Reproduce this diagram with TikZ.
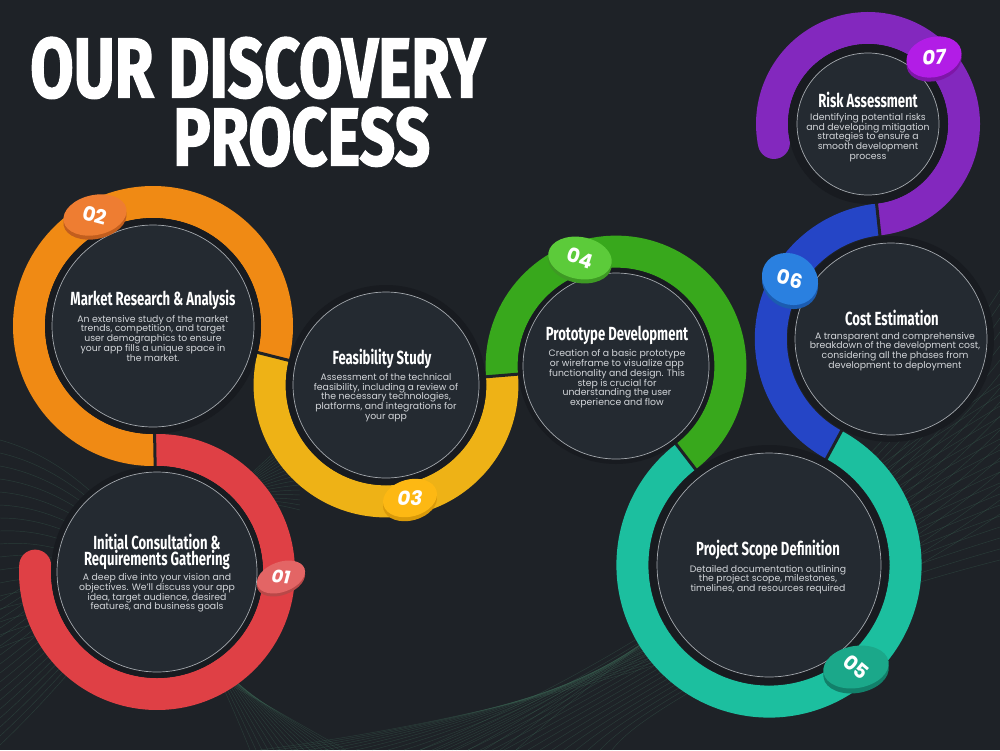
\documentclass[tikz,border=0pt]{standalone}
\usepackage{fontspec}
\usepackage{graphicx}
\setmainfont{Poppins}
\newfontfamily\headfont[FakeStretch=0.69]{Fira Sans}
\newfontfamily\titlefont{Fira Sans}[BoldFeatures={FakeBold=2}]
\definecolor{bg}{HTML}{1E2227}
\definecolor{gapc}{HTML}{181B20}
\definecolor{diskc}{HTML}{242A31}
\definecolor{linec}{HTML}{A4A9AE}
\definecolor{bodyc}{HTML}{D3D6DA}
\definecolor{meshc}{HTML}{3F6E5A}
\definecolor{rred}{HTML}{DF4045}
\definecolor{rorange}{HTML}{F08A14}
\definecolor{ryellow}{HTML}{EEB216}
\definecolor{rgreen}{HTML}{38A81C}
\definecolor{rteal}{HTML}{1CBF9F}
\definecolor{rblue}{HTML}{2545C6}
\definecolor{rpurple}{HTML}{8328BE}
\definecolor{bredf}{HTML}{E36565}\definecolor{breds}{HTML}{B94848}
\definecolor{borf}{HTML}{EE7D32}\definecolor{bors}{HTML}{C25E1E}
\definecolor{byef}{HTML}{FDB813}\definecolor{byes}{HTML}{D99A0A}
\definecolor{bgrf}{HTML}{5CCB3A}\definecolor{bgrs}{HTML}{3E9A24}
\definecolor{btef}{HTML}{1BA88A}\definecolor{btes}{HTML}{12806A}
\definecolor{bblf}{HTML}{2A80E0}\definecolor{bbls}{HTML}{1C5CB0}
\definecolor{bpuf}{HTML}{B21DE6}\definecolor{bpus}{HTML}{7E16A8}
\begin{document}
\begin{tikzpicture}[x=1pt,y=1pt,
  ring/.style={line width=32pt, line cap=butt},
  divider/.style={draw=bg, line width=3pt},
  gapdisk/.style={circle, fill=gapc, inner sep=0pt},
  disk/.style={circle, fill=diskc, draw=linec, line width=0.7pt, inner sep=0pt},
  mesh/.style={draw=meshc, opacity=0.35, line width=0.45pt},
  headtxt/.style={text=white, align=center, inner sep=0pt, font=\headfont\bfseries\fontsize{19}{14}\selectfont},
  bodytxt/.style={text=bodyc, align=center, inner sep=0pt, font=\fontsize{9.3}{9.75}\selectfont},
  numtxt/.style={text=white, inner sep=0pt, font=\bfseries\fontsize{20}{20}\selectfont}
]
\fill[bg] (0,0) rectangle (1000,-750);
\useasboundingbox (0,0) rectangle (1000,-750);

% background mesh
\foreach \i in {0,...,16} {
  \draw[mesh] (0,{-440-\i*13}) .. controls (110,{-470-\i*8}) and (190,{-600-\i*4}) .. ({250+\i*6},-750);
  \draw[mesh] (0,{-745+\i*9}) .. controls (90,{-660+\i*7}) and (170,{-540+\i*4}) .. (300,{-430-\i*5});
  \draw[mesh] ({420+\i*12},-750) .. controls (650,{-650-\i*3}) and (850,{-520-\i*6}) .. (1000,{-290-\i*14});
  \draw[mesh] ({260+\i*16},-750) .. controls (600,{-705+\i*2}) and (800,{-610+\i*6}) .. (1000,{-560+\i*11});
}

% centers
\coordinate (c1) at (157,-572);
\coordinate (c2) at (153,-326);
\coordinate (c3) at (386,-385);
\coordinate (c4) at (616,-366);
\coordinate (c5) at (769,-565);
\coordinate (c6) at (891,-339);
\coordinate (c7) at (868,-124);

% rings
\draw[ring, rred] (c1) ++(91:122pt) arc[start angle=91, end angle=-183, radius=122pt];
\fill[rred] (c1) ++(-183:122pt) circle[radius=16pt];
\draw[ring, rorange] (c2) ++(271:124pt) arc[start angle=271, end angle=-14.2, radius=124pt];
\draw[ring, ryellow] (c3) ++(165.8:116.4pt) arc[start angle=165.8, end angle=364.7, radius=116.4pt];
\draw[ring, rgreen] (c4) ++(184.7:114.4pt) arc[start angle=184.7, end angle=-52.4, radius=114.4pt];
\draw[ring, rteal] (c5) ++(127.6:136.6pt) arc[start angle=127.6, end angle=421.6, radius=136.6pt];
\draw[ring, rblue] (c6) ++(241.6:120.2pt) arc[start angle=241.6, end angle=96.1, radius=120.2pt];
\draw[ring, rpurple] (c7) ++(276.1:96pt) arc[start angle=276.1, end angle=551.4, radius=96pt];
\fill[rpurple] (c7) ++(191.4:96pt) circle[radius=16pt];

% dividers
\draw[divider] (c1) ++(91:104pt) -- ++(91:36pt);
\draw[divider] (c2) ++(-14.2:106pt) -- ++(-14.2:36pt);
\draw[divider] (c3) ++(4.7:98.4pt) -- ++(4.7:36pt);
\draw[divider] (c4) ++(-52.4:96.4pt) -- ++(-52.4:36pt);
\draw[divider] (c5) ++(61.6:118.6pt) -- ++(61.6:36pt);
\draw[divider] (c6) ++(96.1:102.2pt) -- ++(96.1:36pt);

% disks
\node[gapdisk, minimum size=212pt] (g1) at (c1) {};
\node[gapdisk, minimum size=216pt] (g2) at (c2) {};
\node[gapdisk, minimum size=200pt] (g3) at (c3) {};
\node[gapdisk, minimum size=196pt] (g4) at (c4) {};
\node[gapdisk, minimum size=240pt] (g5) at (c5) {};
\node[gapdisk, minimum size=206pt] (g6) at (c6) {};
\node[gapdisk, minimum size=160pt] (g7) at (c7) {};
\node[disk, minimum size=200pt] (s1) at (c1) {};
\node[disk, minimum size=202pt] (s2) at (c2) {};
\node[disk, minimum size=186pt] (s3) at (c3) {};
\node[disk, minimum size=186pt] (s4) at (c4) {};
\node[disk, minimum size=224pt] (s5) at (c5) {};
\node[disk, minimum size=192pt] (s6) at (c6) {};
\node[disk, minimum size=142pt] (s7) at (c7) {};

% texts
\node[headtxt] (h1) at (157,-552) {Initial Consultation \&\\Requirements Gathering};
\node[bodytxt] (b1) at (157,-593) {A deep dive into your vision and\\objectives. We'll discuss your app\\idea, target audience, desired\\features, and business goals};
\node[headtxt] (h2) at (153,-300) {Market Research \& Analysis};
\node[bodytxt] (b2) at (153,-338) {An extensive study of the market\\trends, competition, and target\\user demographics to ensure\\your app fills a unique space in\\the market.};
\node[headtxt] (h3) at (382,-359) {Feasibility Study};
\node[bodytxt] (b3) at (386,-397.5) {Assessment of the technical\\feasibility, including a review of\\the necessary technologies,\\platforms, and integrations for\\your app};
\node[headtxt] (h4) at (617,-335) {Prototype Development};
\node[bodytxt] (b4) at (617,-379) {Creation of a basic prototype\\or wireframe to visualize app\\functionality and design. This\\step is crucial for\\understanding the user\\experience and flow};
\node[headtxt] (h5) at (768,-550) {Project Scope Definition};
\node[bodytxt] (b5) at (768,-579.5) {Detailed documentation outlining\\the project scope, milestones,\\timelines, and resources required};
\node[headtxt] (h6) at (892,-318) {Cost Estimation};
\node[bodytxt] (b6) at (895,-351.5) {A transparent and comprehensive\\breakdown of the development cost,\\considering all the phases from\\development to deployment};
\node[headtxt] (h7) at (868,-100) {Risk Assessment};
\node[bodytxt] (b7) at (868,-137.5) {Identifying potential risks\\and developing mitigation\\strategies to ensure a\\smooth development\\process};

% badges (coin shapes)
\fill[breds, rotate around={20:(281,-580)}] (281,-580) ellipse[x radius=25pt, y radius=15pt];
\fill[bredf, rotate around={20:(281,-577)}] (281,-577) ellipse[x radius=25pt, y radius=15pt];
\node[numtxt, rotate=-5, font=\bfseries\itshape\fontsize{18}{18}\selectfont] (t1) at (281,-577) {01};
\fill[bors, rotate around={12:(95,-219)}] (95,-219) ellipse[x radius=32pt, y radius=20pt];
\fill[borf, rotate around={12:(95,-215)}] (95,-215) ellipse[x radius=32pt, y radius=20pt];
\node[numtxt, rotate=-15] (t2) at (95,-215) {02};
\fill[byes, rotate around={15:(410,-502)}] (410,-502) ellipse[x radius=27.5pt, y radius=18.5pt];
\fill[byef, rotate around={15:(410,-498)}] (410,-498) ellipse[x radius=27.5pt, y radius=18.5pt];
\node[numtxt, font=\bfseries\itshape\fontsize{20}{20}\selectfont] (t3) at (410,-498) {03};
\fill[bgrs, rotate around={-10:(580,-262)}] (580,-262) ellipse[x radius=32pt, y radius=21pt];
\fill[bgrf, rotate around={-10:(580,-258)}] (580,-258) ellipse[x radius=32pt, y radius=21pt];
\node[numtxt, rotate=-18] (t4) at (580,-258) {04};
\fill[btes, rotate around={10:(856,-672)}] (856,-672) ellipse[x radius=33pt, y radius=21pt];
\fill[btef, rotate around={10:(856,-667)}] (856,-667) ellipse[x radius=33pt, y radius=21pt];
\node[numtxt, rotate=-40] (t5) at (856,-667) {05};
\fill[bbls, rotate around={-30:(790,-283)}] (790,-283) ellipse[x radius=29pt, y radius=25pt];
\fill[bblf, rotate around={-30:(790,-279)}] (790,-279) ellipse[x radius=29pt, y radius=25pt];
\node[numtxt, rotate=-15] (t6) at (790,-279) {06};
\fill[bpus, rotate around={15:(934,-61)}] (934,-61) ellipse[x radius=28pt, y radius=20pt];
\fill[bpuf, rotate around={15:(934,-57)}] (934,-57) ellipse[x radius=28pt, y radius=20pt];
\node[numtxt, rotate=5, font=\bfseries\itshape\fontsize{20}{20}\selectfont] (t7) at (934,-57) {07};

% title
\node[anchor=north west, inner sep=0pt, text=white] (title1) at (30,-37) {\resizebox{455pt}{60pt}{\titlefont\bfseries OUR DISCOVERY}};
\node[anchor=north west, inner sep=0pt, text=white] (title2) at (173,-107) {\resizebox{257pt}{58pt}{\titlefont\bfseries PROCESS}};
\end{tikzpicture}
\end{document}
